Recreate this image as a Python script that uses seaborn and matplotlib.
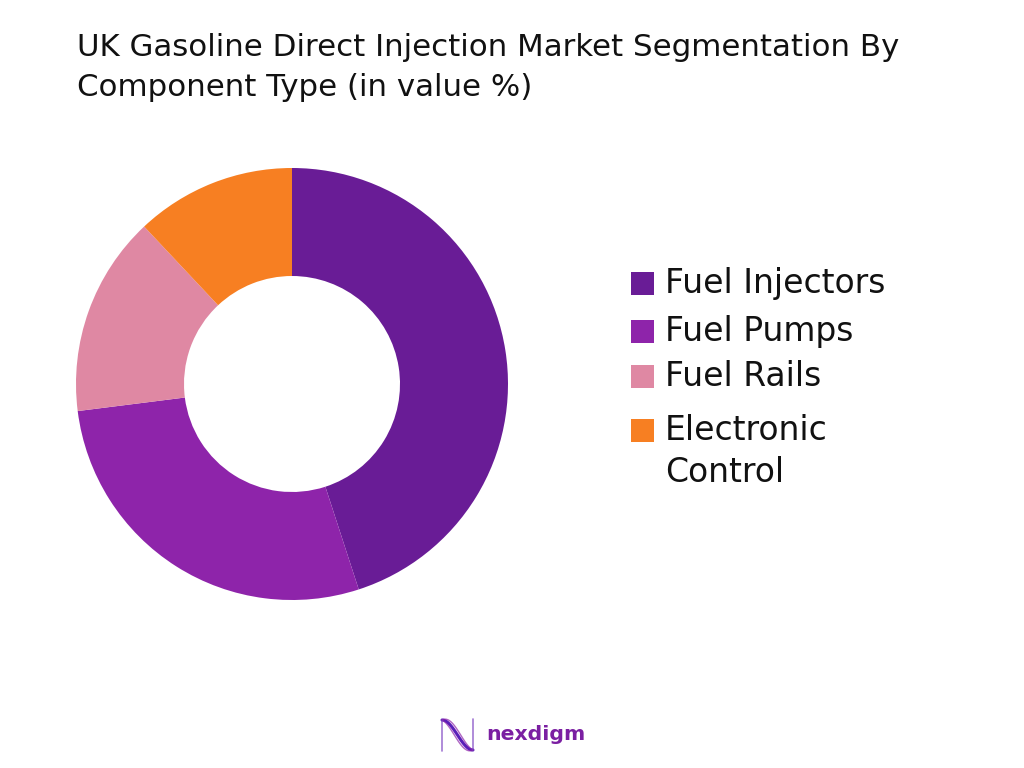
import numpy as np
import matplotlib.pyplot as plt
import seaborn as sns
from matplotlib.patches import Rectangle

# data
categories = ['Fuel Injectors', 'Fuel Pumps', 'Fuel Rails', 'Electronic', 'Control']
shares = [45, 28, 15, 12]
colors = ['#691C96', '#8E24AA', '#DF88A3', '#F77F22']
title_lines = ['UK Gasoline Direct Injection Market Segmentation By', 'Component Type (in value %)']

sns.set_theme(style='white')
plt.rcParams['font.family'] = ['DejaVu Sans']

W, H = 1024, 768
fig = plt.figure(figsize=(W / 100, H / 100), dpi=100, facecolor='white')

# overlay in pixel coordinates for the text and legend
over = fig.add_axes([0, 0, 1, 1])
over.set_xlim(0, W)
over.set_ylim(H, 0)
over.axis('off')

# donut, centre (292, 384), outer radius 216
R = 216
ax = fig.add_axes([(292 - R) / W, 1 - (384 + R) / H, 2 * R / W, 2 * R / H])
ax.pie(shares, colors=sns.color_palette(colors), startangle=90, counterclock=False,
       radius=1, wedgeprops=dict(width=0.5, linewidth=0))
ax.set_xlim(-1, 1)
ax.set_ylim(-1, 1)

for line, y in zip(title_lines, [47, 87]):
    over.text(77, y, line, fontsize=22.25, color='#111111', va='center', ha='left')

# legend
box_ys = [283, 331, 376, 430]
text_ys = [283, 331, 376, 430, 473]
for col, y in zip(colors, box_ys):
    over.add_patch(Rectangle((631, y - 11), 23, 23, color=col, lw=0))
for name, y in zip(categories, text_ys):
    over.text(665, y, name, fontsize=23.8, color='#111111', va='center', ha='left')

# logo
t = np.linspace(0, 1, 60)
for amp, lw, col, a in [(0, 2.2, '#5A1FB8', 1), (5, 1, '#8E24AA', 0.7), (-5, 1, '#8E24AA', 0.7)]:
    xs = 442 + 31 * t
    ys_logo = 735 + (-15 * np.cos(np.pi * t) + amp * np.sin(np.pi * t))
    over.plot(xs, ys_logo, color=col, lw=lw, alpha=a)
over.plot([442, 442], [720, 751], color='#7B3FC0', lw=1.2, alpha=0.7)
over.plot([473, 473], [719, 750], color='#7B3FC0', lw=1.2, alpha=0.7)
over.text(486, 735, 'nexdigm', fontsize=14.7, fontweight='bold', color='#7B1FA2', va='center', ha='left')

fig.savefig('out.png', dpi=100)
